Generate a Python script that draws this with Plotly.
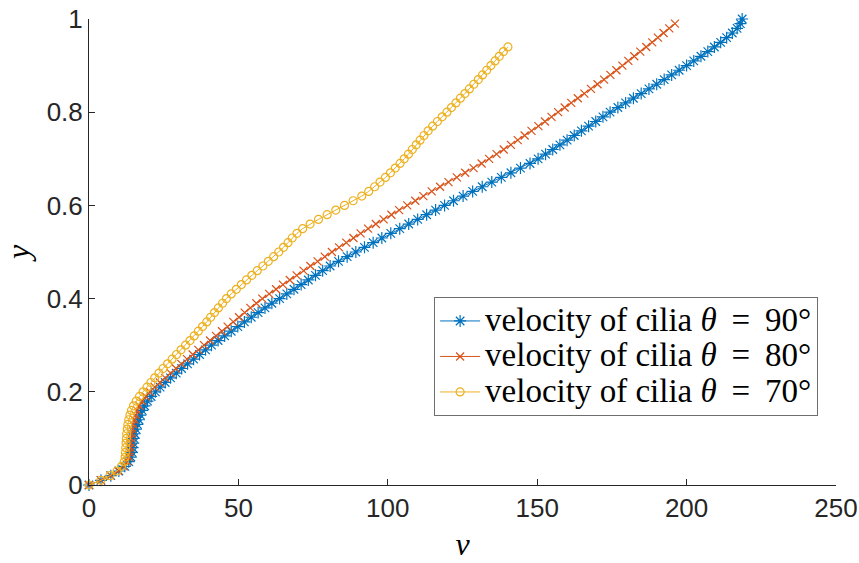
import plotly.graph_objects as go

# y levels (shared sampling)
y_levels = [0.00, 0.01, 0.02, 0.03, 0.04, 0.05, 0.06, 0.07, 0.08, 0.09,
            0.10, 0.11, 0.12, 0.13, 0.14, 0.15, 0.16, 0.17, 0.18, 0.19,
            0.20, 0.21, 0.22, 0.23, 0.24, 0.25, 0.26, 0.27, 0.28, 0.29,
            0.30, 0.31, 0.32, 0.33, 0.34, 0.35, 0.36, 0.37, 0.38, 0.39,
            0.40, 0.41, 0.42, 0.43, 0.44, 0.45, 0.46, 0.47, 0.48, 0.49,
            0.50, 0.51, 0.52, 0.53, 0.54, 0.55, 0.56, 0.57, 0.58, 0.59,
            0.60, 0.61, 0.62, 0.63, 0.64, 0.65, 0.66, 0.67, 0.68, 0.69,
            0.70, 0.71, 0.72, 0.73, 0.74, 0.75, 0.76, 0.77, 0.78, 0.79,
            0.80, 0.81, 0.82, 0.83, 0.84, 0.85, 0.86, 0.87, 0.88, 0.89,
            0.90, 0.91, 0.92, 0.93, 0.94, 0.95, 0.96, 0.97, 0.98, 0.99, 1.00]

# velocity of cilia, theta = 90 deg (101 points, y 0..1.00)
v_90 = [0.0, 4.0, 7.3, 10.0, 12.0, 13.3, 14.0, 14.4, 14.6, 14.8,
        15.0, 15.3, 15.7, 16.2, 16.7, 17.2, 17.8, 18.6, 19.6, 20.8,
        22.2, 23.8, 25.5, 27.3, 29.2, 31.0, 33.0, 35.0, 37.0, 39.0,
        41.0, 43.2, 45.4, 47.6, 49.8, 52.0, 54.3, 56.6, 58.9, 61.2,
        63.8, 66.2, 68.6, 71.0, 73.4, 75.8, 78.2, 80.7, 83.5, 86.4,
        89.3, 92.2, 95.1, 98.0, 101.0, 104.0, 107.0, 110.0, 113.0, 116.0,
        119.0, 122.0, 125.2, 128.4, 131.6, 134.8, 138.0, 141.2, 144.4, 147.6,
        150.3, 152.8, 155.2, 157.6, 160.0, 162.4, 164.8, 167.2, 169.6, 172.0,
        174.4, 177.0, 179.6, 182.2, 184.8, 187.4, 190.0, 192.5, 195.0, 197.5,
        200.0, 202.4, 204.8, 207.1, 209.3, 211.4, 213.4, 215.3, 216.9, 218.0, 218.6]

# theta = 80 deg (100 points, y 0..0.99)
v_80 = [0.0, 4.0, 7.2, 9.8, 11.6, 12.8, 13.4, 13.7, 13.9, 14.0,
        14.1, 14.3, 14.5, 14.8, 15.2, 15.6, 16.1, 16.8, 17.8, 19.0,
        20.4, 22.0, 23.7, 25.5, 27.3, 29.1, 30.9, 32.8, 34.7, 36.6,
        38.5, 40.5, 42.5, 44.5, 46.4, 48.3, 50.2, 52.1, 54.0, 56.0,
        58.0, 60.3, 62.6, 64.9, 67.2, 69.5, 71.8, 74.1, 76.5, 78.9,
        81.3, 83.7, 86.1, 88.5, 90.9, 93.4, 96.0, 98.6, 101.2, 103.8,
        106.5, 109.2, 111.9, 114.7, 117.5, 120.3, 123.1, 125.9, 128.7, 131.4,
        133.9, 136.4, 138.8, 141.2, 143.5, 145.8, 148.1, 150.4, 152.6, 154.8,
        157.0, 159.2, 161.4, 163.6, 165.8, 168.0, 170.2, 172.4, 174.5, 176.5,
        178.5, 180.5, 182.5, 184.5, 186.5, 188.5, 190.4, 192.3, 194.2, 196.1]

# theta = 70 deg (95 points, y 0..0.94)
v_70 = [0.0, 4.0, 7.0, 9.4, 10.9, 11.8, 12.1, 12.2, 12.3, 12.4,
        12.5, 12.6, 12.8, 13.0, 13.3, 13.7, 14.2, 14.9, 15.8, 16.9,
        18.1, 19.4, 20.7, 22.0, 23.4, 24.8, 26.3, 27.8, 29.3, 30.8,
        32.3, 33.8, 35.2, 36.6, 38.0, 39.4, 40.7, 42.0, 43.3, 44.7,
        46.0, 47.6, 49.3, 51.0, 52.7, 54.5, 56.3, 58.2, 60.0, 61.8,
        63.5, 65.1, 66.6, 68.0, 69.6, 71.5, 74.0, 76.8, 79.7, 82.6,
        85.5, 88.4, 91.3, 93.6, 95.6, 97.4, 99.2, 100.9, 102.5, 104.1,
        105.5, 106.9, 108.2, 109.5, 110.8, 112.1, 113.5, 115.0, 116.6, 118.2,
        119.8, 121.3, 122.8, 124.3, 125.8, 127.3, 128.8, 130.3, 131.7, 133.1,
        134.5, 135.9, 137.3, 138.7, 140.2]

x_ticks = [0, 50, 100, 150, 200, 250]
y_ticks = [0, 0.2, 0.4, 0.6, 0.8, 1]
y_tick_text = ["0", "0.2", "0.4", "0.6", "0.8", "1"]

legend_labels = ["velocity of cilia <i>θ</i>\u2009 = \u200990°",
                 "velocity of cilia <i>θ</i>\u2009 = \u200980°",
                 "velocity of cilia <i>θ</i>\u2009 = \u200970°"]

series = [
    (legend_labels[0], v_90, "#0072BD", "asterisk-open", 10),
    (legend_labels[1], v_80, "#D95319", "x-thin-open", 8),
    (legend_labels[2], v_70, "#EDB120", "circle-open", 8),
]

fig = go.Figure()
for name, vals, color, sym, size in series:
    fig.add_trace(go.Scatter(
        x=vals, y=y_levels[:len(vals)], mode="lines+markers",
        name='<span style="font-size:33px">' + name + '</span>',
        line=dict(color=color, width=1),
        marker=dict(symbol=sym, size=size, color=color,
                    line=dict(color=color, width=1.2)),
        cliponaxis=False,
    ))

axis_col = "#262626"
fig.update_layout(
    width=859, height=563,
    margin=dict(l=89, r=23, t=19, b=78),
    paper_bgcolor="white", plot_bgcolor="white",
    font=dict(family="Liberation Sans, Arial, sans-serif", size=26, color=axis_col),
    xaxis=dict(range=[0, 250], tickvals=x_ticks, ticks="inside", ticklen=6,
               tickcolor=axis_col, showline=True, linecolor=axis_col, linewidth=1,
               showgrid=False, zeroline=False, mirror=False, automargin=False,
               tickfont=dict(size=26, color=axis_col),
               title=dict(text="<i>v</i>", font=dict(family="Liberation Serif, serif", size=32, color="black"),
                          standoff=10)),
    yaxis=dict(range=[0, 1], tickvals=y_ticks, ticktext=y_tick_text, ticks="inside", ticklen=6,
               tickcolor=axis_col, showline=True, linecolor=axis_col, linewidth=1,
               showgrid=False, zeroline=False, mirror=False, automargin=False,
               tickfont=dict(size=26, color=axis_col),
               title=dict(text="<i>y</i>", font=dict(family="Liberation Serif, serif", size=32, color="black"),
                          standoff=12)),
    legend=dict(x=0.462, y=0.403, xanchor="left", yanchor="top",
                bgcolor="white", bordercolor="#6e6e6e", borderwidth=1,
                font=dict(family="Liberation Serif, serif", size=25, color="black"),
                tracegroupgap=0, itemwidth=40),
    showlegend=True,
)

fig.write_html("out.html")
